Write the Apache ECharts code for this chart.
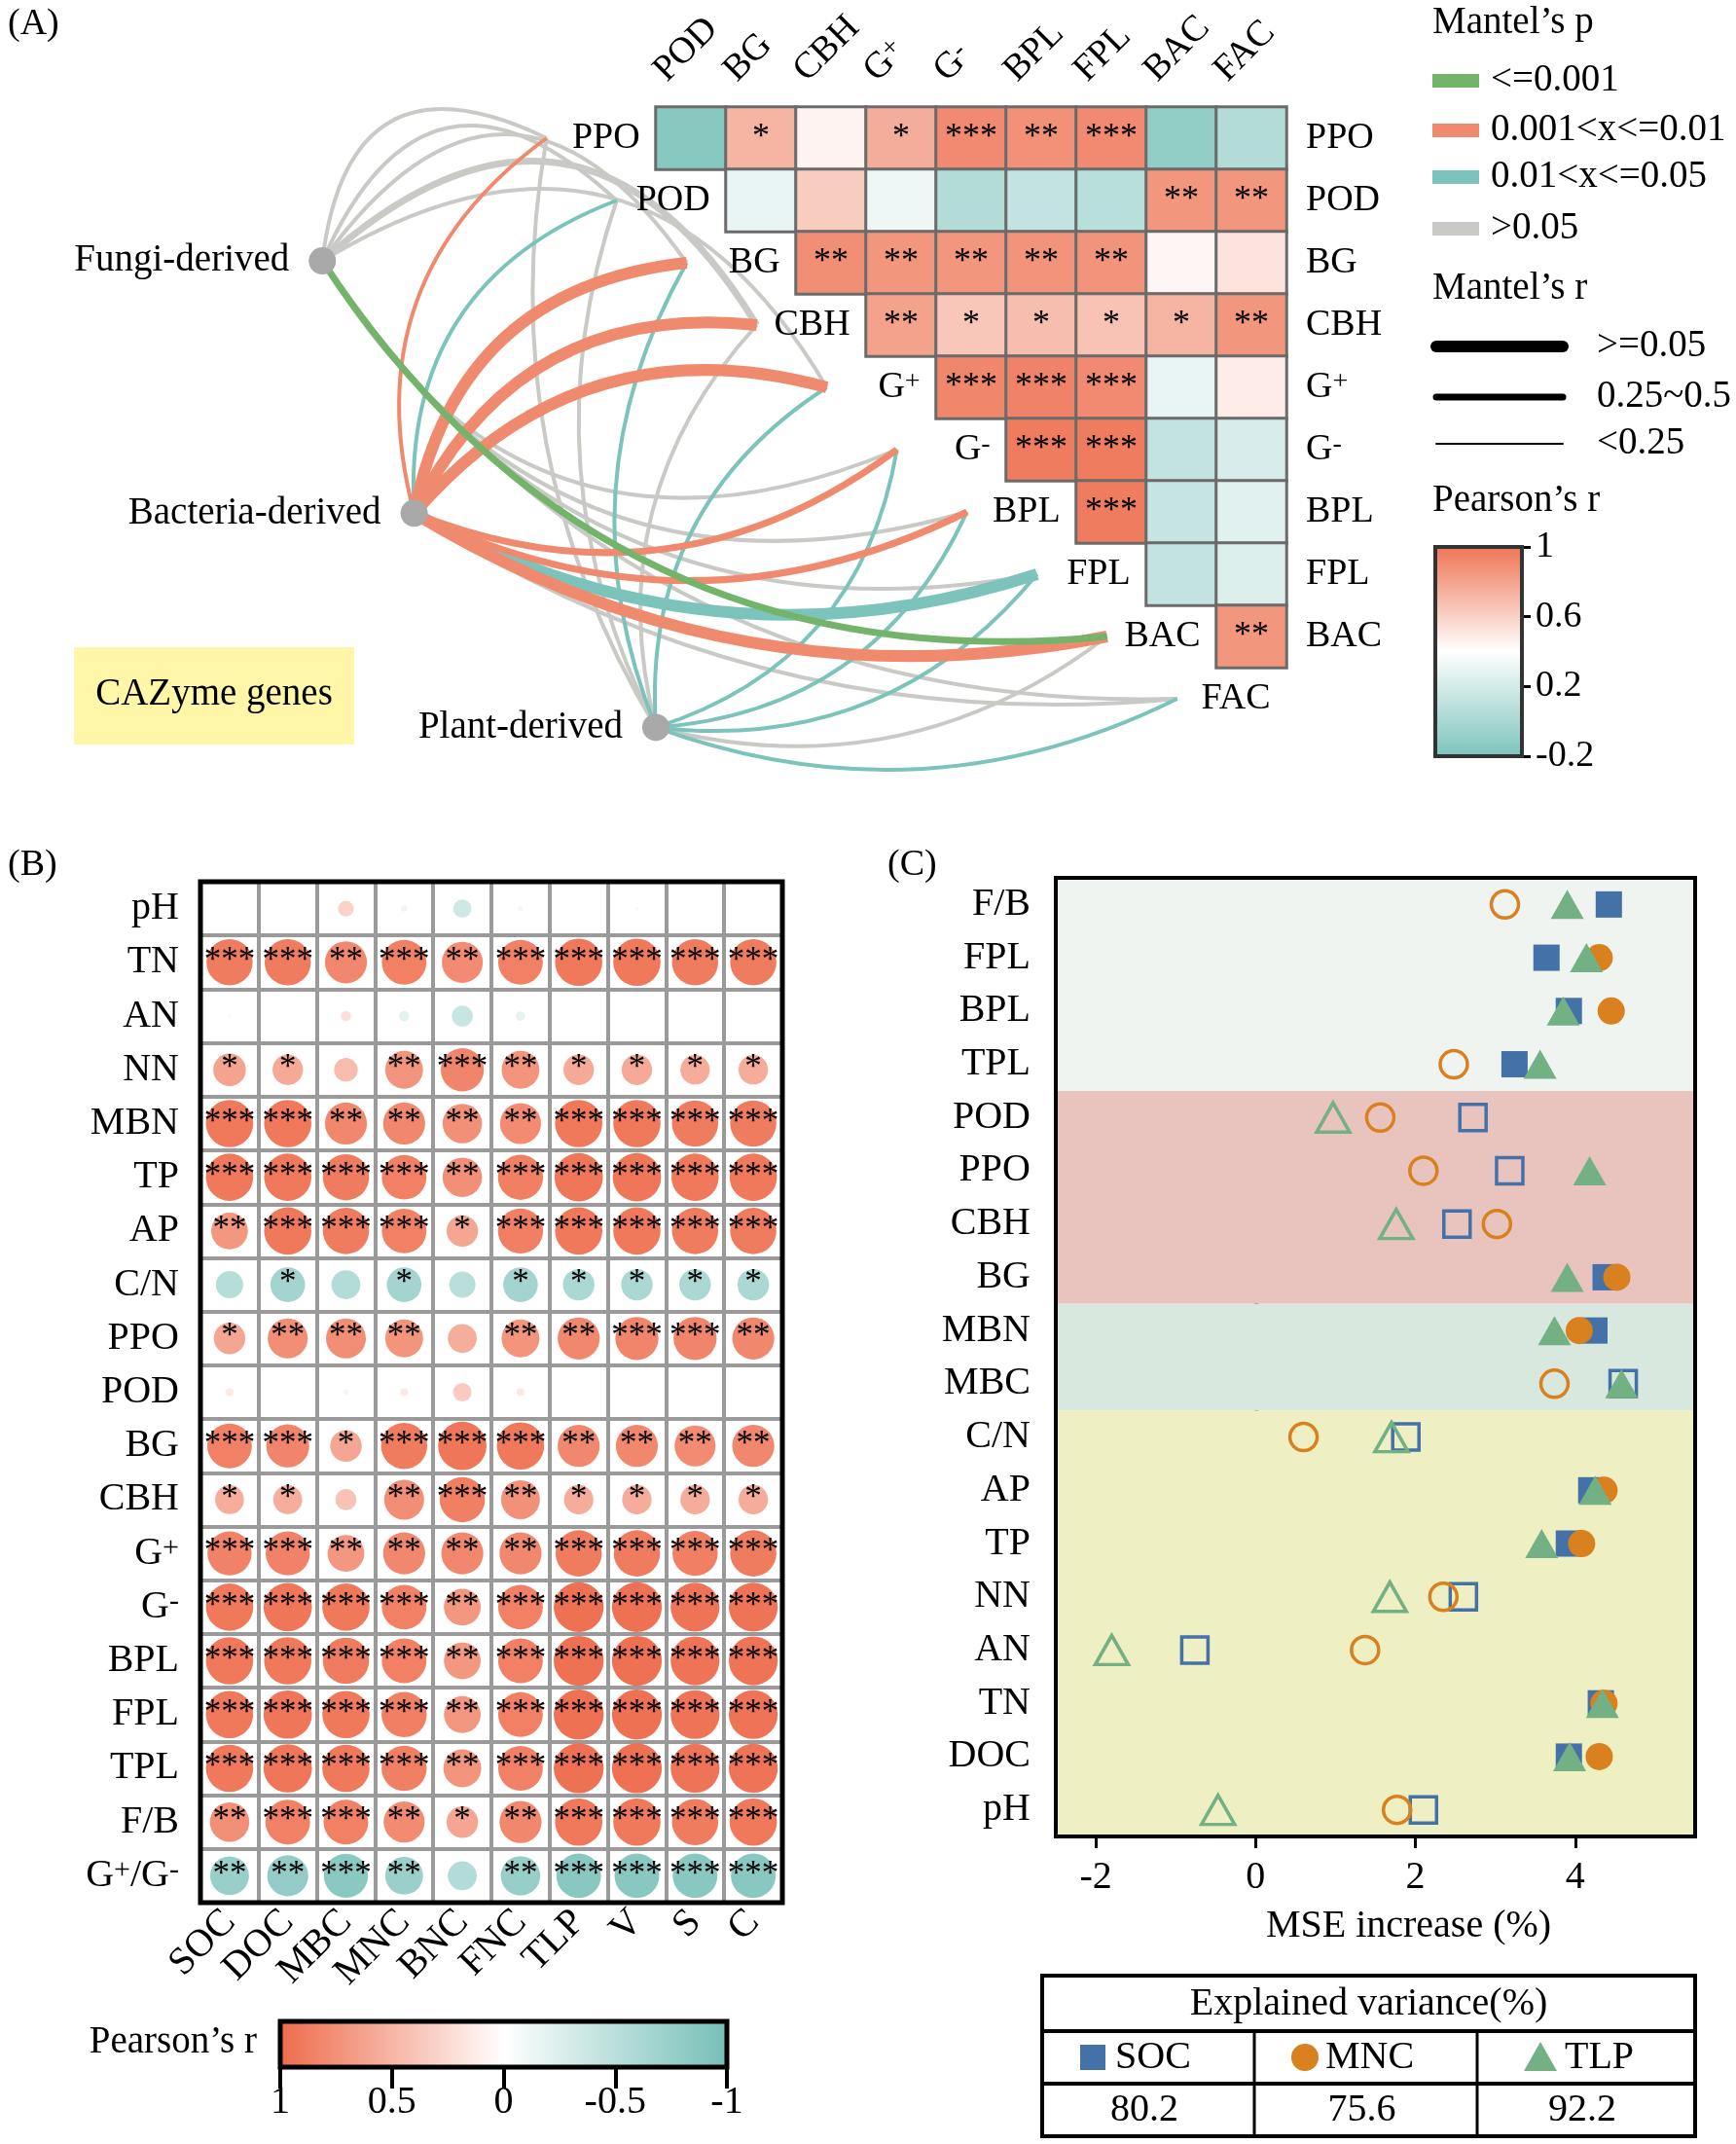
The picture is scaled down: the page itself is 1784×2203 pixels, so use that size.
<!DOCTYPE html>
<html><head><meta charset="utf-8">
<script src="https://cdn.jsdelivr.net/npm/echarts@6/dist/echarts.min.js"></script>
<style>html,body{margin:0;padding:0;background:#fff}#c{width:1784px;height:2203px}</style>
</head><body><div id="c"></div>
<script>
// ================= DATA =================
// Panel A : Pearson heatmap (upper triangle, row i holds columns i..8)
const hmCols = ['POD','BG','CBH','G+','G-','BPL','FPL','BAC','FAC'];
const hmRows = ['PPO','POD','BG','CBH','G+','G-','BPL','FPL','BAC'];
const hmR = [
  [-0.15, 0.72, 0.45, 0.75, 0.90, 0.87, 0.90, -0.10, 0.05],
  [0.30, 0.62, 0.32, 0.05, 0.12, 0.08, 0.85, 0.85],
  [0.88, 0.85, 0.85, 0.86, 0.86, 0.44, 0.52],
  [0.80, 0.64, 0.68, 0.66, 0.72, 0.85],
  [0.92, 0.93, 0.90, 0.30, 0.48],
  [0.96, 0.96, 0.12, 0.22],
  [0.96, 0.14, 0.26],
  [0.12, 0.24],
  [0.85]
];
const hmSig = [
  ['', '*', '', '*', '***', '**', '***', '', ''],
  ['', '', '', '', '', '', '**', '**'],
  ['**', '**', '**', '**', '**', '', ''],
  ['**', '*', '*', '*', '*', '**'],
  ['***', '***', '***', '', ''],
  ['***', '***', '', ''],
  ['***', '', ''],
  ['', ''],
  ['**']
];
// Panel A : Mantel links
const linkTargets = ['PPO','POD','BG','CBH','G+','G-','BPL','FPL','BAC','FAC'];
const envNames = ['Fungi-derived','Bacteria-derived','Plant-derived'];
// Mantel's p class: 1 <=0.001, 2 0.001-0.01, 3 0.01-0.05, 4 >0.05
const mantelP = [
  [4,4,4,4,4,4,4,4,1,4],
  [2,3,2,2,2,2,2,3,2,4],
  [4,4,3,4,3,3,3,3,4,3]
];
// Mantel's r class: 1 thick, 2 medium, 3 thin
const mantelR = [
  [3,3,3,2,3,3,3,3,2,3],
  [3,3,1,1,1,2,2,1,1,3],
  [3,3,3,3,3,3,3,3,3,3]
];
const pLegend = ['<=0.001','0.001<x<=0.01','0.01<x<=0.05','>0.05'];
const rLegend = ['>=0.05','0.25~0.5','<0.25'];
const aTicks = [-0.2, 0.2, 0.6, 1];

// Panel B : correlation bubbles
const bRows = ['pH','TN','AN','NN','MBN','TP','AP','C/N','PPO','POD','BG','CBH','G+','G-','BPL','FPL','TPL','F/B','G+/G-'];
const bCols = ['SOC','DOC','MBC','MNC','BNC','FNC','TLP','V','S','C'];
const bR = [
  [0.02, 0.04, 0.30, -0.12, -0.35, -0.10, 0.04, 0.07, 0.04, 0.04],
  [0.88, 0.88, 0.80, 0.85, 0.78, 0.85, 0.90, 0.90, 0.88, 0.88],
  [-0.07, 0.00, 0.20, -0.20, -0.40, -0.18, 0.00, 0.01, 0.00, 0.00],
  [0.62, 0.58, 0.45, 0.72, 0.82, 0.72, 0.58, 0.58, 0.56, 0.56],
  [0.90, 0.90, 0.80, 0.80, 0.75, 0.78, 0.90, 0.90, 0.88, 0.88],
  [0.90, 0.90, 0.88, 0.85, 0.75, 0.86, 0.92, 0.92, 0.90, 0.90],
  [0.70, 0.90, 0.88, 0.85, 0.60, 0.86, 0.90, 0.90, 0.88, 0.88],
  [-0.52, -0.66, -0.55, -0.66, -0.50, -0.66, -0.60, -0.60, -0.60, -0.60],
  [0.60, 0.76, 0.76, 0.72, 0.55, 0.72, 0.80, 0.82, 0.82, 0.80],
  [0.15, 0.03, -0.10, 0.15, 0.35, 0.15, 0.03, 0.02, 0.03, 0.03],
  [0.85, 0.82, 0.60, 0.88, 0.92, 0.90, 0.80, 0.80, 0.78, 0.80],
  [0.55, 0.55, 0.40, 0.76, 0.86, 0.74, 0.56, 0.56, 0.56, 0.56],
  [0.84, 0.84, 0.70, 0.80, 0.80, 0.80, 0.88, 0.88, 0.86, 0.88],
  [0.90, 0.92, 0.90, 0.85, 0.70, 0.85, 0.95, 0.95, 0.93, 0.93],
  [0.90, 0.90, 0.88, 0.85, 0.70, 0.85, 0.95, 0.95, 0.93, 0.93],
  [0.90, 0.92, 0.90, 0.86, 0.70, 0.85, 0.95, 0.95, 0.93, 0.93],
  [0.90, 0.92, 0.90, 0.86, 0.72, 0.85, 0.95, 0.95, 0.93, 0.93],
  [0.75, 0.85, 0.85, 0.78, 0.60, 0.80, 0.90, 0.90, 0.88, 0.90],
  [-0.74, -0.78, -0.84, -0.72, -0.55, -0.75, -0.85, -0.85, -0.85, -0.85]
];
const bSig = [
  ['','','','','','','','','',''],
  ['***','***','**','***','**','***','***','***','***','***'],
  ['','','','','','','','','',''],
  ['*','*','','**','***','**','*','*','*','*'],
  ['***','***','**','**','**','**','***','***','***','***'],
  ['***','***','***','***','**','***','***','***','***','***'],
  ['**','***','***','***','*','***','***','***','***','***'],
  ['','*','','*','','*','*','*','*','*'],
  ['*','**','**','**','','**','**','***','***','**'],
  ['','','','','','','','','',''],
  ['***','***','*','***','***','***','**','**','**','**'],
  ['*','*','','**','***','**','*','*','*','*'],
  ['***','***','**','**','**','**','***','***','***','***'],
  ['***','***','***','***','**','***','***','***','***','***'],
  ['***','***','***','***','**','***','***','***','***','***'],
  ['***','***','***','***','**','***','***','***','***','***'],
  ['***','***','***','***','**','***','***','***','***','***'],
  ['**','***','***','**','*','**','***','***','***','***'],
  ['**','**','***','**','','**','***','***','***','***']
];

// Panel C : random forest MSE increase
const cCats = ['F/B','FPL','BPL','TPL','POD','PPO','CBH','BG','MBN','MBC','C/N','AP','TP','NN','AN','TN','DOC','pH'];
const socMSE = [4.42, 3.64, 3.92, 3.24, 2.72, 3.18, 2.52, 4.38, 4.24, 4.60, 1.88, 4.20, 3.92, 2.60, -0.76, 4.32, 3.92, 2.10];
const socSig = [1,1,1,1,0,0,0,1,1,0,0,1,1,0,0,1,1,0];
const mncMSE = [3.12, 4.30, 4.45, 2.48, 1.56, 2.10, 3.02, 4.52, 4.05, 3.74, 0.60, 4.36, 4.08, 2.35, 1.37, 4.36, 4.30, 1.77];
const mncSig = [0,1,1,0,0,0,0,1,1,0,0,1,1,0,0,1,1,0];
const tlpMSE = [3.90, 4.14, 3.85, 3.56, 0.97, 4.18, 1.76, 3.90, 3.74, 4.58, 1.70, 4.25, 3.58, 1.68, -1.80, 4.34, 3.93, -0.47];
const tlpSig = [1,1,1,1,0,1,0,1,1,1,0,1,1,0,0,1,1,0];
const cBands = [[0,3,0],[4,7,1],[8,9,2],[10,17,3]];
const cTicks = [-2, 0, 2, 4];
const varLabels = ['SOC','MNC','TLP'];
const varExplained = ['80.2','75.6','92.2'];

// ================= STYLE / LAYOUT =================
const FONT = '"Liberation Serif","Times New Roman",serif';
const INK = '#000';
const RED_A = '#EE7353', TEAL_A = '#7CC3BB';
const RED_B = '#EE6A4A', TEAL_B = '#74BEB6';
const pColors = {1:'#74B36A', 2:'#EF8A6E', 3:'#7CC3BC', 4:'#C9C9C5'};
const rWidths = {1:12, 2:7, 3:4};
const rLegendW = [12, 7, 2];
const bandColors = ['#EFF4F1','#E9C4BF','#D8E8DE','#EEEFC2'];
const serColors = {SOC:'#4471A8', MNC:'#D9801F', TLP:'#73B185'};
const HM = {left:674, top:110, cw:72, ch:64};
const envPos = [[-4.76, 2.47], [-3.45, 6.52], [0.0, 9.96]];
const curveBase = [270, 140, 115];
const anchorOffset = 1.56, labelOffset = 0.22;
const topLabelPos = {dx: 0.05, y: -0.5};
const GB = {left:206, top:906, width:598, height:1049};
const GC = {left:1085, top:902, width:657, height:985};

function richStyle(fs) {
  return {
    b: {fontSize: fs, fontFamily: FONT, color: INK},
    s: {fontSize: Math.round(fs * 0.74), fontFamily: FONT, color: INK, verticalAlign: 'top'}
  };
}
function supLabel(name) {
  if (name === 'G+') return '{b|G}{s|+}';
  if (name === 'G-') return '{b|G}{s|-}';
  if (name === 'G+/G-') return '{b|G}{s|+}{b|/G}{s|-}';
  return '{b|' + name + '}';
}

// ---- build heatmap data
const hmData = [];
hmR.forEach((row, i) => row.forEach((v, k) => {
  hmData.push({value: [i + k, i, v], stars: hmSig[i][k]});
}));

// ---- build links
const order = [];
for (let k = 0; k < 3; k++) for (let i = 0; i < 10; i++) order.push([k, i]);
order.sort((a, b) => mantelP[b[0]][b[1]] - mantelP[a[0]][a[1]]);
const linkData = order.map(([k, i]) => {
  const s = envPos[k], a = [i - anchorOffset, i + 0.5];
  const len = Math.hypot((a[0] - s[0]) * HM.cw, (a[1] - s[1]) * HM.ch);
  const c = Math.min(0.7, curveBase[k] / len) * (i < 5 ? 1 : -1);
  return {coords: [s, a], lineStyle: {color: pColors[mantelP[k][i]], width: rWidths[mantelR[k][i]], curveness: c, opacity: 1}};
});

// ---- bubbles
const bData = [];
bR.forEach((row, r) => row.forEach((v, c) => bData.push({value: [c, r, v], stars: bSig[r][c]})));

// ---- panel C scatter data
function mkData(vals, sig, color) {
  return vals.map((v, i) => ({
    value: [v, i],
    itemStyle: sig[i] ? {color: color, borderColor: color, borderWidth: 0, opacity: 1}
                      : {color: 'rgba(0,0,0,0)', borderColor: color, borderWidth: 3.5, opacity: 1}
  }));
}

// ================= GRAPHIC =================
const G = [];
function txt(text, x, y, fs, align, va) {
  G.push({type: 'text', x: x, y: y, z: 60, silent: true,
    style: {text: text, fontSize: fs, fontFamily: FONT, fill: INK,
            align: align || 'left', textAlign: align || 'left',
            verticalAlign: va || 'middle', textVerticalAlign: va || 'middle'}});
}
txt('(A)', 8, 25, 38);
txt('(B)', 8, 889, 38);
txt('(C)', 912, 889, 38);
// CAZyme box
G.push({type: 'rect', z: 5, shape: {x: 76, y: 665, width: 288, height: 100}, style: {fill: '#FFF6A8'}});
txt('CAZyme genes', 220, 714, 39, 'center');
// Mantel's p legend
txt('Mantel\u2019s p', 1472, 24, 39);
pLegend.forEach((t, j) => {
  const y = [83, 134, 182, 235][j];
  G.push({type: 'rect', z: 60, shape: {x: 1472, y: y - 7, width: 48, height: 14}, style: {fill: pColors[j + 1]}});
  txt(t, 1532, y, 39);
});
// Mantel's r legend
txt('Mantel\u2019s r', 1472, 297, 39);
rLegend.forEach((t, j) => {
  const y = [356, 408, 456][j];
  G.push({type: 'line', z: 60, shape: {x1: 1476, y1: y, x2: 1606, y2: y},
          style: {stroke: '#000', lineWidth: rLegendW[j], lineCap: 'round'}});
  txt(t, 1641, y, 39);
});
txt('Pearson\u2019s r', 1472, 515, 39);
// Panel B colour-bar title
txt('Pearson\u2019s r', 264, 2099, 39, 'right');
// Borders on top of panel B and C
G.push({type: 'rect', z: 80, shape: {x: GB.left, y: GB.top, width: GB.width, height: GB.height},
        style: {fill: 'none', stroke: INK, lineWidth: 5}});
G.push({type: 'rect', z: 80, shape: {x: GC.left, y: GC.top, width: GC.width, height: GC.height},
        style: {fill: 'none', stroke: INK, lineWidth: 4}});
// Table
const TB = {x: 1071, y: 2030, w: 671, h: 165, r1: 2087, r2: 2141, c1: 1289, c2: 1518};
G.push({type: 'rect', z: 60, shape: {x: TB.x, y: TB.y, width: TB.w, height: TB.h}, style: {fill: 'none', stroke: INK, lineWidth: 4}});
[TB.r1, TB.r2].forEach(y => G.push({type: 'line', z: 60, shape: {x1: TB.x, y1: y, x2: TB.x + TB.w, y2: y}, style: {stroke: INK, lineWidth: 4}}));
[TB.c1, TB.c2].forEach(x => G.push({type: 'line', z: 60, shape: {x1: x, y1: TB.r1, x2: x, y2: TB.y + TB.h}, style: {stroke: INK, lineWidth: 3}}));
txt('Explained variance(%)', (TB.x + TB.x + TB.w) / 2, 2059, 40, 'center');
const colCenters = [(TB.x + TB.c1) / 2, (TB.c1 + TB.c2) / 2, (TB.c2 + TB.x + TB.w) / 2];
const yMid2 = (TB.r1 + TB.r2) / 2, yMid3 = (TB.r2 + TB.y + TB.h) / 2;
G.push({type: 'rect', z: 60, shape: {x: 1110, y: yMid2 - 13, width: 26, height: 26}, style: {fill: serColors.SOC}});
G.push({type: 'circle', z: 60, shape: {cx: 1341, cy: yMid2, r: 14}, style: {fill: serColors.MNC}});
G.push({type: 'polygon', z: 60, shape: {points: [[1583, yMid2 - 16], [1566, yMid2 + 14], [1600, yMid2 + 14]]}, style: {fill: serColors.TLP}});
txt(varLabels[0], 1146, yMid2, 40);
txt(varLabels[1], 1362, yMid2, 40);
txt(varLabels[2], 1608, yMid2, 40);
varExplained.forEach((v, j) => txt(v, colCenters[j] - 4, yMid3, 40, 'center'));

// ================= OPTION =================
const hidden = {show: false};
const option = {
  animation: false,
  backgroundColor: '#fff',
  textStyle: {fontFamily: FONT, color: INK},
  grid: [
    {left: HM.left, top: HM.top, width: HM.cw * 9, height: HM.ch * 9},
    {left: HM.left, top: HM.top, width: HM.cw * 9, height: HM.ch * 9},
    {left: 1475, top: 562, width: 89, height: 215},
    {left: GB.left, top: GB.top, width: GB.width, height: GB.height},
    {left: 288, top: 2077, width: 459, height: 47},
    {left: GC.left, top: GC.top, width: GC.width, height: GC.height}
  ],
  xAxis: [
    {type: 'category', gridIndex: 0, position: 'top', data: hmCols,
     axisLine: hidden, axisTick: hidden, splitLine: hidden, axisLabel: hidden},
    {type: 'value', gridIndex: 1, min: 0, max: 9, show: false},
    {type: 'category', gridIndex: 2, data: ['a'], show: false},
    {type: 'category', gridIndex: 3, data: bCols, position: 'bottom',
     axisLine: hidden, axisTick: hidden,
     splitLine: {show: true, interval: 0, lineStyle: {color: '#9A9A9A', width: 4}},
     axisLabel: {interval: 0, rotate: 45, margin: 14, fontSize: 40, color: INK, fontFamily: FONT}},
    {type: 'value', gridIndex: 4, min: -1, max: 1, interval: 0.5, inverse: true, position: 'bottom',
     axisLine: hidden, splitLine: hidden,
     axisTick: {show: true, length: 22, lineStyle: {color: INK, width: 4}},
     axisLabel: {fontSize: 40, margin: 16, color: INK, fontFamily: FONT}},
    {type: 'value', gridIndex: 5, min: -2.5, max: 5.5, splitLine: hidden,
     axisLine: {show: true, lineStyle: {color: INK, width: 4}},
     axisTick: {show: true, length: 12, customValues: cTicks, lineStyle: {color: INK, width: 3}},
     axisLabel: {customValues: cTicks, fontSize: 40, margin: 22, color: INK, fontFamily: FONT},
     name: 'MSE increase (%)', nameLocation: 'middle', nameGap: 72,
     nameTextStyle: {fontSize: 40, color: INK, fontFamily: FONT, padding: [0, 0, 0, 68]}}
  ],
  yAxis: [
    {type: 'category', gridIndex: 0, position: 'right', inverse: true, data: hmRows,
     axisLine: hidden, axisTick: hidden, splitLine: hidden,
     axisLabel: {interval: 0, margin: 20, formatter: v => supLabel(v), rich: richStyle(38)}},
    {type: 'value', gridIndex: 1, min: 0, max: 9, inverse: true, show: false},
    {type: 'value', gridIndex: 2, min: -0.2, max: 1, position: 'right', splitLine: hidden,
     axisLine: {show: true, lineStyle: {color: INK, width: 3}},
     axisTick: {show: true, length: 9, customValues: aTicks, lineStyle: {color: INK, width: 3}},
     axisLabel: {customValues: aTicks, fontSize: 38, margin: 14, color: INK, fontFamily: FONT}},
    {type: 'category', gridIndex: 3, data: bRows, inverse: true,
     axisLine: hidden, axisTick: hidden,
     splitLine: {show: true, interval: 0, lineStyle: {color: '#9A9A9A', width: 4}},
     axisLabel: {interval: 0, margin: 22, formatter: v => supLabel(v), rich: richStyle(40)}},
    {type: 'category', gridIndex: 4, data: ['a'], show: false},
    {type: 'category', gridIndex: 5, data: cCats, inverse: true,
     axisLine: {show: true, lineStyle: {color: INK, width: 4}},
     axisTick: {show: true, alignWithLabel: true, length: 13, lineStyle: {color: INK, width: 3}},
     axisLabel: {interval: 0, margin: 26, formatter: v => supLabel(v), rich: richStyle(40)}}
  ],
  visualMap: [
    {type: 'continuous', show: false, seriesIndex: 0, dimension: 2, min: -0.2, max: 1,
     inRange: {color: [TEAL_A, '#FFFFFF', RED_A]}},
    {type: 'continuous', show: false, seriesIndex: 4, dimension: 2, min: -1, max: 1,
     inRange: {color: [TEAL_B, '#FFFFFF', RED_B]}}
  ],
  series: [
    // 0 heatmap
    {type: 'heatmap', xAxisIndex: 0, yAxisIndex: 0, data: hmData, z: 3,
     itemStyle: {borderColor: '#6B6B6B', borderWidth: 3},
     label: {show: true, formatter: p => p.data.stars, fontSize: 36, color: INK, fontFamily: FONT},
     emphasis: {disabled: true}},
    // 1 Mantel links
    {type: 'lines', coordinateSystem: 'cartesian2d', xAxisIndex: 1, yAxisIndex: 1, clip: false, z: 2,
     lineStyle: {opacity: 1}, data: linkData, silent: true},
    // 2 env nodes
    {type: 'scatter', xAxisIndex: 1, yAxisIndex: 1, clip: false, z: 4, symbolSize: 28,
     itemStyle: {color: '#A9A9A9', opacity: 1},
     label: {show: true, position: 'left', distance: 20, formatter: '{b}', fontSize: 39, color: INK, fontFamily: FONT},
     data: envPos.map((p, k) => ({value: p, name: envNames[k]}))},
    // 3 diagonal labels
    {type: 'scatter', xAxisIndex: 1, yAxisIndex: 1, clip: false, z: 4, symbolSize: 1,
     itemStyle: {color: '#ffffff', opacity: 1},
     label: {show: true, position: 'left', distance: 0, formatter: p => supLabel(p.name), rich: richStyle(38)},
     data: linkTargets.map((t, i) => ({value: [i - labelOffset, i + 0.5], name: t}))},
    // 4 bubbles
    {type: 'scatter', xAxisIndex: 3, yAxisIndex: 3, z: 3, data: bData,
     symbolSize: v => Math.abs(v[2]) * 54,
     itemStyle: {opacity: 1},
     label: {show: true, position: 'inside', formatter: p => p.data.stars, fontSize: 35, color: INK, fontFamily: FONT, offset: [0, -1]},
     emphasis: {disabled: true}},
    // 5 colourbar A
    {type: 'custom', xAxisIndex: 2, yAxisIndex: 2, data: [[0, 0]], z: 3, silent: true,
     renderItem: (params) => {
       const cs = params.coordSys;
       return {type: 'rect', shape: {x: cs.x, y: cs.y, width: cs.width, height: cs.height},
         style: {fill: new echarts.graphic.LinearGradient(0, 0, 0, 1,
           [{offset: 0, color: RED_A}, {offset: 0.5, color: '#FFFFFF'}, {offset: 1, color: TEAL_A}]),
           stroke: '#333', lineWidth: 4}};
     }},
    // 6 colourbar B
    {type: 'custom', xAxisIndex: 4, yAxisIndex: 4, data: [[0, 0]], z: 3, silent: true,
     renderItem: (params) => {
       const cs = params.coordSys;
       return {type: 'rect', shape: {x: cs.x, y: cs.y, width: cs.width, height: cs.height},
         style: {fill: new echarts.graphic.LinearGradient(0, 0, 1, 0,
           [{offset: 0, color: RED_B}, {offset: 0.5, color: '#FFFFFF'}, {offset: 1, color: TEAL_B}]),
           stroke: INK, lineWidth: 5}};
     }},
    // 7 background bands C
    {type: 'custom', xAxisIndex: 5, yAxisIndex: 5, data: cBands, z: 1, silent: true, clip: false,
     renderItem: (params, api) => {
       const cs = params.coordSys;
       const h = api.size([0, 1])[1];
       const ya = api.coord([0, api.value(0)])[1], yb = api.coord([0, api.value(1)])[1];
       const top = Math.min(ya, yb) - h / 2, bot = Math.max(ya, yb) + h / 2;
       return {type: 'rect', shape: {x: cs.x, y: top, width: cs.width, height: bot - top},
               style: {fill: bandColors[api.value(2)]}};
     }},
    // 8-10 MSE markers
    {name: 'SOC', type: 'scatter', xAxisIndex: 5, yAxisIndex: 5, z: 5, symbol: 'rect', symbolSize: 27,
     itemStyle: {opacity: 1}, data: mkData(socMSE, socSig, serColors.SOC)},
    {name: 'MNC', type: 'scatter', xAxisIndex: 5, yAxisIndex: 5, z: 6, symbol: 'circle', symbolSize: 28,
     itemStyle: {opacity: 1}, data: mkData(mncMSE, mncSig, serColors.MNC)},
    {name: 'TLP', type: 'scatter', xAxisIndex: 5, yAxisIndex: 5, z: 7, symbol: 'triangle', symbolSize: [34, 30],
     itemStyle: {opacity: 1}, data: mkData(tlpMSE, tlpSig, serColors.TLP)},
    // 11 heatmap column labels (rotated, above the triangle)
    {type: 'scatter', xAxisIndex: 1, yAxisIndex: 1, clip: false, z: 4, symbolSize: 1,
     itemStyle: {color: '#ffffff', opacity: 1},
     label: {show: true, position: 'right', distance: 0, rotate: 45, formatter: p => supLabel(p.name), rich: richStyle(38)},
     data: hmCols.map((t, j) => ({value: [j + topLabelPos.dx, topLabelPos.y], name: t}))}
  ],
  graphic: {elements: G}
};
const chart = echarts.init(document.getElementById('c'), null, {renderer: 'canvas'});
chart.setOption(option);
</script></body></html>
